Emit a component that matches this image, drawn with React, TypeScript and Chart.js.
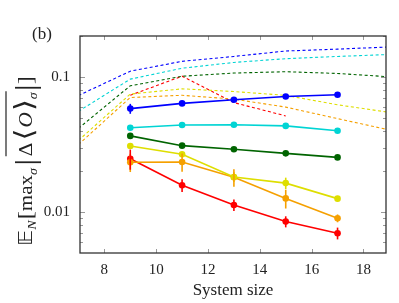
import React, { useEffect, useRef } from "react";
import { Chart, registerables } from "chart.js";

Chart.register(...registerables);

// ---------- data ----------
const sizes = [9, 11, 13, 15, 17];

const blueVals = [0.0582, 0.0636, 0.0676, 0.0715, 0.0736];
const blueErr = [0.0049, 0.001, 0.001, 0.001, 0.001];
const cyanVals = [0.042, 0.0441, 0.0442, 0.0434, 0.0399];
const cyanErr = [0.0015, 0.001, 0.001, 0.001, 0.0012];
const greenVals = [0.0366, 0.031, 0.0292, 0.0272, 0.0254];
const greenErr = [0.0008, 0.0008, 0.0008, 0.0008, 0.0008];
const yellowVals = [0.0308, 0.0268, 0.0182, 0.0164, 0.0126];
const yellowErr = [0.0008, 0.0012, 0.0015, 0.0016, 0.0006];
const orangeVals = [0.0234, 0.0235, 0.0181, 0.01265, 0.00903];
const orangeErr = [0.0036, 0.0036, 0.0027, 0.002, 0.0006];
const redVals = [0.0248, 0.0158, 0.0113, 0.00853, 0.007];
const redErr = [0.0042, 0.0017, 0.0011, 0.0008, 0.0007];

const fitX = [7, 9, 11, 13, 15, 17, 19];
const blueFit = [0.0727, 0.11, 0.13, 0.1413, 0.155, 0.16, 0.166];
const cyanFit = [0.0556, 0.0961, 0.1156, 0.1276, 0.136, 0.1413, 0.146];
const greenFit = [0.0416, 0.0858, 0.1009, 0.1065, 0.109, 0.1058, 0.1];
const yellowFit = [0.0339, 0.0745, 0.0815, 0.0778, 0.0729, 0.0621, 0.0546];
const orangeFit = [0.0316, 0.0703, 0.073, 0.0684, 0.0597, 0.0491, 0.0405];
const redFitX = [9, 11, 13, 15];
const redFit = [0.073, 0.101, 0.0645, 0.0514];

const xTicks = [8, 10, 12, 14, 16, 18];
const yTickValues = [0.01, 0.1];
const yTickLabels = ["0.01", "0.1"];
const xTitle = "System size";
const panelLabel = "(b)";

const C_BLUE = "#0000ff";
const C_CYAN = "#00d4d4";
const C_GREEN = "#006400";
const C_YELLOW = "#dede00";
const C_ORANGE = "#f5a000";
const C_RED = "#ff0000";

const SERIF = "'Liberation Serif', 'DejaVu Serif', serif";

function pts(xs: number[], ys: number[]) {
  return xs.map((x, i) => ({ x, y: ys[i] }));
}

function solid(color: string, vals: number[], err: number[]) {
  return {
    data: pts(sizes, vals),
    errors: err,
    borderColor: color,
    backgroundColor: color,
    borderWidth: 1.6,
    pointRadius: 3.3,
    pointHoverRadius: 3.3,
    pointBorderWidth: 0,
    tension: 0,
  } as any;
}

function dashed(color: string, xs: number[], vals: number[]) {
  return {
    data: pts(xs, vals),
    borderColor: color,
    backgroundColor: color,
    borderWidth: 1.1,
    borderDash: [3, 2.5],
    pointRadius: 0,
    tension: 0,
  } as any;
}

const isMajor = (v: number) => Math.abs(Math.log10(v) - Math.round(Math.log10(v))) < 1e-9;

const errorBarPlugin = {
  id: "errbars",
  afterDatasetsDraw(chart: any) {
    const ctx = chart.ctx;
    const ys = chart.scales.y;
    chart.data.datasets.forEach((ds: any, di: number) => {
      if (!ds.errors) return;
      const meta = chart.getDatasetMeta(di);
      ctx.save();
      ctx.strokeStyle = ds.borderColor;
      ctx.lineWidth = 1.6;
      ds.data.forEach((p: any, i: number) => {
        const e = ds.errors[i];
        const px = meta.data[i].x;
        const y1 = ys.getPixelForValue(p.y + e);
        const y2 = ys.getPixelForValue(p.y - e);
        ctx.beginPath();
        ctx.moveTo(px, y1);
        ctx.lineTo(px, y2);
        ctx.stroke();
      });
      ctx.restore();
    });
  },
};

function drawYLabel(ctx: CanvasRenderingContext2D) {
  const F = "18px " + SERIF;
  const FI = "italic 18px " + SERIF;
  const S = "italic 12px " + SERIF;
  const BAR = "30px " + SERIF;
  const ANG = "26px 'DejaVu Serif', 'DejaVu Sans', serif";
  const BR = "21px " + SERIF;
  const parts: [string, string, number, number][] = [
    ["𝔼", "19px 'DejaVu Sans', 'DejaVu Serif', serif", 0, 0],
    ["N", S, 4, 1],
    ["[", BR, 0, 0],
    ["max", F, 0, 0],
    ["σ", S, 5, 2],
    ["|", BAR, 3, 2],
    ["Δ", F, 0, 2],
    ["⟨", ANG, 1, 1],
    ["O", FI, 0, 1],
    ["⟩", ANG, 1, 0],
    ["σ", S, 5, 1],
    ["|", BAR, 3, 0],
    ["]", BR, 0, 0],
  ];
  ctx.save();
  let total = 0;
  const widths: number[] = [];
  parts.forEach(([t, f, , g]) => {
    ctx.font = f;
    const w = ctx.measureText(t).width;
    widths.push(w);
    total += w + g;
  });
  const span = 170;
  const sx = span / total;
  ctx.translate(32, 246);
  ctx.rotate(-Math.PI / 2);
  ctx.scale(sx, 1);
  ctx.fillStyle = "#222";
  ctx.textAlign = "left";
  ctx.textBaseline = "alphabetic";
  let x = 0;
  let ovStart = 0;
  let ovEnd = 0;
  parts.forEach(([t, f, dy, g], i) => {
    if (i === 6) ovStart = x;
    ctx.font = f;
    ctx.fillText(t, x, dy);
    x += widths[i] + g;
    if (i === 10) ovEnd = x;
  });
  ctx.strokeStyle = "#222";
  ctx.lineWidth = 1.2;
  ctx.beginPath();
  ctx.moveTo(ovStart, -26);
  ctx.lineTo(ovEnd, -26);
  ctx.stroke();
  ctx.restore();
}

const framePlugin = {
  id: "frame",
  afterDraw(chart: any) {
    const ctx = chart.ctx;
    const a = chart.chartArea;
    const xs = chart.scales.x;
    const ys = chart.scales.y;
    ctx.save();
    // ticks
    ctx.strokeStyle = "#999";
    ctx.lineWidth = 1;
    ys.ticks.forEach((t: any) => {
      const py = Math.round(ys.getPixelForValue(t.value)) + 0.5;
      if (py < a.top + 0.5 || py > a.bottom - 0.5) return;
      const len = isMajor(t.value) ? 5 : 3;
      ctx.beginPath();
      ctx.moveTo(a.left, py);
      ctx.lineTo(a.left + len, py);
      ctx.moveTo(a.right, py);
      ctx.lineTo(a.right - len, py);
      ctx.stroke();
    });
    xs.ticks.forEach((t: any) => {
      const px = Math.round(xs.getPixelForValue(t.value)) + 0.5;
      ctx.beginPath();
      ctx.moveTo(px, a.bottom);
      ctx.lineTo(px, a.bottom - 4);
      ctx.moveTo(px, a.top);
      ctx.lineTo(px, a.top + 4);
      ctx.stroke();
    });
    // border
    ctx.strokeStyle = "#333";
    ctx.lineWidth = 1.3;
    ctx.strokeRect(a.left, a.top, a.right - a.left, a.bottom - a.top);
    // texts
    ctx.fillStyle = "#222";
    ctx.font = "17px " + SERIF;
    ctx.textAlign = "center";
    ctx.textBaseline = "alphabetic";
    ctx.fillText(xTitle, (a.left + a.right) / 2, 295);
    ctx.textAlign = "left";
    ctx.fillText(panelLabel, 32, 39);
    ctx.restore();
    drawYLabel(ctx);
  },
};

export default function App() {
  const ref = useRef<HTMLCanvasElement>(null);
  useEffect(() => {
    if (!ref.current) return;
    const chart = new Chart(ref.current, {
      type: "line",
      data: {
        datasets: [
          solid(C_BLUE, blueVals, blueErr),
          solid(C_CYAN, cyanVals, cyanErr),
          solid(C_GREEN, greenVals, greenErr),
          solid(C_YELLOW, yellowVals, yellowErr),
          solid(C_ORANGE, orangeVals, orangeErr),
          solid(C_RED, redVals, redErr),
          dashed(C_BLUE, fitX, blueFit),
          dashed(C_CYAN, fitX, cyanFit),
          dashed(C_GREEN, fitX, greenFit),
          dashed(C_YELLOW, fitX, yellowFit),
          dashed(C_ORANGE, fitX, orangeFit),
          dashed(C_RED, redFitX, redFit),
        ],
      },
      options: {
        responsive: false,
        animation: false,
        devicePixelRatio: 1,
        layout: { padding: { left: 0, top: 36, right: 13, bottom: 0 } },
        plugins: { legend: { display: false }, tooltip: { enabled: false } },
        scales: {
          x: {
            type: "linear",
            min: 7.06,
            max: 18.87,
            grid: { display: false, drawTicks: false },
            border: { display: false },
            afterBuildTicks: (s: any) => {
              s.ticks = xTicks.map((v) => ({ value: v }));
            },
            afterFit: (s: any) => {
              s.height = 50;
            },
            ticks: {
              autoSkip: false,
              maxRotation: 0,
              padding: 8,
              color: "#222",
              font: { family: SERIF, size: 15 },
              callback: (v: any) => String(v),
            },
          },
          y: {
            type: "logarithmic",
            min: 0.005,
            max: 0.2,
            grid: { display: false, drawTicks: false },
            border: { display: false },
            afterBuildTicks: (s: any) => {
              const out: any[] = [];
              [0.001, 0.01, 0.1].forEach((d) => {
                for (let m = 1; m <= 9; m++) {
                  const v = +(d * m).toPrecision(6);
                  if (v >= 0.005 - 1e-12 && v <= 0.2 + 1e-12) out.push({ value: v });
                }
              });
              s.ticks = out;
            },
            afterFit: (s: any) => {
              s.width = 80;
            },
            ticks: {
              autoSkip: false,
              padding: 10,
              color: "#222",
              font: { family: SERIF, size: 15 },
              callback: (v: any) => {
                const idx = yTickValues.findIndex((t) => Math.abs(t - v) < 1e-12);
                return idx >= 0 ? yTickLabels[idx] : "";
              },
            },
          },
        },
      },
      plugins: [errorBarPlugin, framePlugin],
    } as any);
    return () => chart.destroy();
  }, []);
  return (
    <canvas
      ref={ref}
      width={399}
      height={303}
      style={{ position: "absolute", left: 0, top: 0, width: 399, height: 303 }}
    />
  );
}
